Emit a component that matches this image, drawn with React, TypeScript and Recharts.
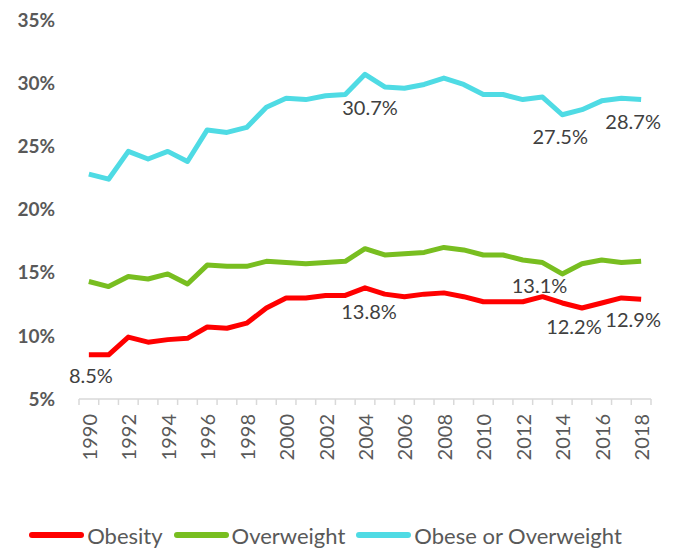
import { LineChart, Line, XAxis, YAxis, Legend, LabelList } from "recharts";

const years = [
  1990, 1991, 1992, 1993, 1994, 1995, 1996, 1997, 1998, 1999, 2000, 2001, 2002, 2003, 2004,
  2005, 2006, 2007, 2008, 2009, 2010, 2011, 2012, 2013, 2014, 2015, 2016, 2017, 2018,
];
const obesity = [
  8.5, 8.5, 9.9, 9.5, 9.7, 9.8, 10.7, 10.6, 11.0, 12.2, 13.0, 13.0, 13.2, 13.2, 13.8,
  13.3, 13.1, 13.3, 13.4, 13.1, 12.7, 12.7, 12.7, 13.1, 12.6, 12.2, 12.6, 13.0, 12.9,
];
const overweight = [
  14.3, 13.9, 14.7, 14.5, 14.9, 14.1, 15.6, 15.5, 15.5, 15.9, 15.8, 15.7, 15.8, 15.9, 16.9,
  16.4, 16.5, 16.6, 17.0, 16.8, 16.4, 16.4, 16.0, 15.8, 14.9, 15.7, 16.0, 15.8, 15.9,
];
const obeseOrOverweight = [
  22.8, 22.4, 24.6, 24.0, 24.6, 23.8, 26.3, 26.1, 26.5, 28.1, 28.8, 28.7, 29.0, 29.1, 30.7,
  29.7, 29.6, 29.9, 30.4, 29.9, 29.1, 29.1, 28.7, 28.9, 27.5, 27.9, 28.6, 28.8, 28.7,
];
const yTicks = [5, 10, 15, 20, 25, 30, 35];
const obesityLabelYears = [1990, 2004, 2013, 2015, 2018];
const obeseOrOverweightLabelYears = [2004, 2014, 2018];

const data = years.map((year, i) => ({
  year,
  obesity: obesity[i],
  overweight: overweight[i],
  obeseOrOverweight: obeseOrOverweight[i],
}));

// tick marks sit between categories, labels on even years
const boundaries = [...years.map((y) => y - 0.5), years[years.length - 1] + 0.5];
const labelYears = years.filter((y) => y % 2 === 0);
const xTicks = [...boundaries, ...labelYears].sort((a, b) => a - b);

const FONT = "Lato, 'Open Sans', sans-serif";
const AXIS_COLOR = "#d9d9d9";
const TEXT_COLOR = "#595959";

// label nudges (dx, dy) by year
const obesityOffsets: Record<number, [number, number]> = {
  1990: [2, 20],
  2004: [4, 23],
  2013: [-3, -12],
  2015: [-8, 18],
  2018: [-8, 20],
};
const cyanOffsets: Record<number, [number, number]> = {
  2004: [5, 33],
  2014: [-2, 21],
  2018: [-8, 21],
};

const makeLabel = (show: number[], offsets: Record<number, [number, number]>) =>
  (props: any) => {
    const { x, y, value, index } = props;
    const year = years[index];
    if (!show.includes(year)) return null;
    const [dx, dy] = offsets[year] || [0, 20];
    return (
      <text
        x={x + dx}
        y={y + dy}
        textAnchor="middle"
        dominantBaseline="central"
        fontFamily={FONT}
        fontSize={20}
        fill="#404040"
      >
        {Number(value).toFixed(1)}%
      </text>
    );
  };

const XTick = ({ x, y, payload }: any) => {
  const v = payload.value;
  if (!Number.isInteger(v)) {
    return <line x1={x} x2={x} y1={y - 8} y2={y - 2} stroke={AXIS_COLOR} strokeWidth={1.5} />;
  }
  return (
    <text
      transform={`translate(${x},${y + 7}) rotate(-90)`}
      textAnchor="end"
      dominantBaseline="central"
      fontFamily={FONT}
      fontSize={20}
      fill={TEXT_COLOR}
    >
      {v}
    </text>
  );
};

const legendItems = [
  { name: "Obesity", color: "#ff0000" },
  { name: "Overweight", color: "#78be20" },
  { name: "Obese or Overweight", color: "#4fdbe4" },
];

const LegendContent = () => (
  <div
    style={{
      display: "flex",
      justifyContent: "center",
      alignItems: "center",
      gap: 11,
      fontFamily: FONT,
      fontSize: 22,
      color: TEXT_COLOR,
      height: 30,
      paddingTop: 8,
    }}
  >
    {legendItems.map((it) => (
      <div key={it.name} style={{ display: "flex", alignItems: "center" }}>
        <span
          style={{
            display: "inline-block",
            width: 55,
            height: 6,
            borderRadius: 3,
            background: it.color,
            marginRight: 3,
          }}
        />
        <span>{it.name}</span>
      </div>
    ))}
  </div>
);

export default function App() {
  return (
    <div style={{ position: "absolute", left: 0, top: 0 }}>
      <LineChart width={675} height={550} data={data} margin={{ top: 20, right: 24, left: 0, bottom: 0 }}>
        <XAxis
          dataKey="year"
          type="number"
          domain={[boundaries[0], boundaries[boundaries.length - 1]]}
          ticks={xTicks}
          interval={0}
          tick={<XTick />}
          tickLine={false}
          axisLine={{ stroke: AXIS_COLOR, strokeWidth: 1.5 }}
          height={113}
        />
        <YAxis
          domain={[5, 35]}
          ticks={yTicks}
          interval={0}
          width={79}
          axisLine={false}
          tickLine={false}
          tickSize={0}
          tickMargin={24}
          tickFormatter={(v: number) => `${v}%`}
          tick={{ fontFamily: FONT, fontSize: 19, fontWeight: 700, fill: TEXT_COLOR }}
        />
        <Legend verticalAlign="bottom" content={<LegendContent />} />
        <Line
          dataKey="obesity"
          stroke="#ff0000"
          strokeWidth={5}
          strokeLinejoin="round"
          dot={false}
          isAnimationActive={false}
        >
          <LabelList dataKey="obesity" content={makeLabel(obesityLabelYears, obesityOffsets)} />
        </Line>
        <Line
          dataKey="overweight"
          stroke="#78be20"
          strokeWidth={5}
          strokeLinejoin="round"
          dot={false}
          isAnimationActive={false}
        />
        <Line
          dataKey="obeseOrOverweight"
          stroke="#4fdbe4"
          strokeWidth={5}
          strokeLinejoin="round"
          dot={false}
          isAnimationActive={false}
        >
          <LabelList
            dataKey="obeseOrOverweight"
            content={makeLabel(obeseOrOverweightLabelYears, cyanOffsets)}
          />
        </Line>
      </LineChart>
    </div>
  );
}
